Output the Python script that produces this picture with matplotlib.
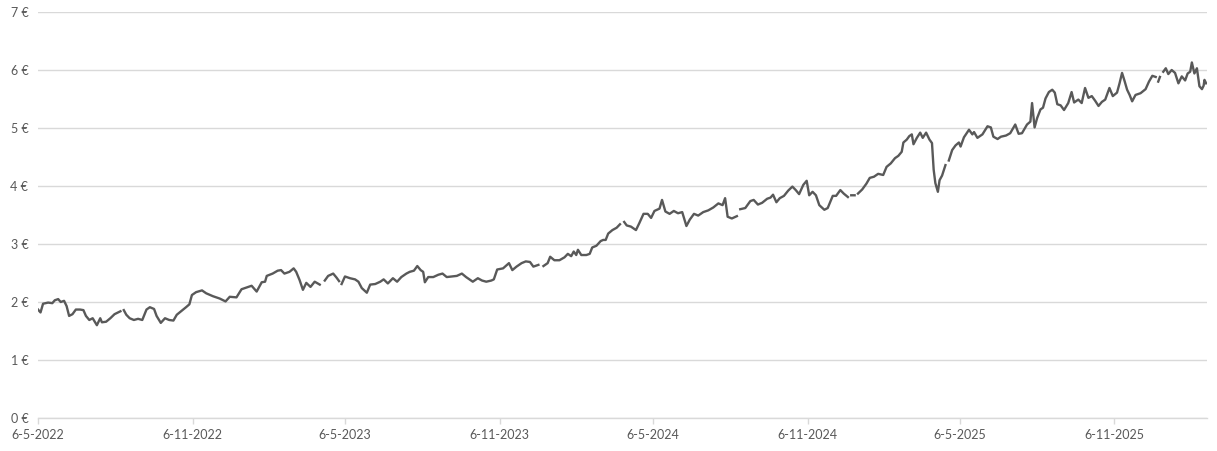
import matplotlib
matplotlib.use("Agg")
import matplotlib.pyplot as plt
import matplotlib.dates as mdates
import numpy as np
import pandas as pd

dates = [
    "2022-05-06", "2022-05-09", "2022-05-12", "2022-05-18", "2022-05-23", "2022-05-26",
    "2022-05-30", "2022-06-02", "2022-06-06", "2022-06-09", "2022-06-12", "2022-06-16",
    "2022-06-20", "2022-06-25", "2022-06-29", "2022-07-02", "2022-07-06", "2022-07-10",
    "2022-07-15", "2022-07-19", "2022-07-21", "2022-07-26", "2022-07-31", "2022-08-05",
    "2022-08-12", "2022-08-14", "2022-08-16", "2022-08-19", "2022-08-23", "2022-08-28",
    "2022-09-02", "2022-09-07", "2022-09-12", "2022-09-16", "2022-09-21", "2022-09-24",
    "2022-09-29", "2022-10-04", "2022-10-09", "2022-10-14", "2022-10-18", "2022-10-24",
    "2022-10-29", "2022-11-02", "2022-11-05", "2022-11-10", "2022-11-17", "2022-11-22",
    "2022-11-30", "2022-12-08", "2022-12-15", "2022-12-20", "2022-12-28", "2023-01-03",
    "2023-01-09", "2023-01-15", "2023-01-21", "2023-01-27", "2023-01-31", "2023-02-02",
    "2023-02-09", "2023-02-15", "2023-02-19", "2023-02-23", "2023-03-01", "2023-03-06",
    "2023-03-09", "2023-03-13", "2023-03-17", "2023-03-21", "2023-03-26", "2023-03-31",
    "2023-04-06", "2023-04-09", "2023-04-12", "2023-04-16", "2023-04-22", "2023-04-26",
    "2023-04-29", "2023-05-01", "2023-05-02", "2023-05-06", "2023-05-12", "2023-05-18",
    "2023-05-22", "2023-05-26", "2023-06-01", "2023-06-05", "2023-06-11", "2023-06-17",
    "2023-06-21", "2023-06-26", "2023-07-02", "2023-07-07", "2023-07-12", "2023-07-18",
    "2023-07-22", "2023-07-27", "2023-07-31", "2023-08-04", "2023-08-07", "2023-08-09",
    "2023-08-13", "2023-08-19", "2023-08-25", "2023-08-30", "2023-09-04", "2023-09-10",
    "2023-09-16", "2023-09-22", "2023-09-27", "2023-10-01", "2023-10-05", "2023-10-11",
    "2023-10-16", "2023-10-21", "2023-10-27", "2023-10-30", "2023-11-03", "2023-11-10",
    "2023-11-17", "2023-11-21", "2023-11-26", "2023-12-02", "2023-12-07", "2023-12-12",
    "2023-12-16", "2023-12-22", "2023-12-24", "2023-12-28", "2024-01-02", "2024-01-05",
    "2024-01-10", "2024-01-16", "2024-01-22", "2024-01-26", "2024-01-30", "2024-02-02",
    "2024-02-05", "2024-02-07", "2024-02-11", "2024-02-17", "2024-02-21", "2024-02-24",
    "2024-02-29", "2024-03-05", "2024-03-08", "2024-03-11", "2024-03-14", "2024-03-19",
    "2024-03-24", "2024-03-28", "2024-03-30", "2024-04-02", "2024-04-05", "2024-04-10",
    "2024-04-16", "2024-04-20", "2024-04-25", "2024-04-30", "2024-05-04", "2024-05-08",
    "2024-05-14", "2024-05-17", "2024-05-21", "2024-05-26", "2024-05-31", "2024-06-05",
    "2024-06-10", "2024-06-15", "2024-06-19", "2024-06-24", "2024-06-29", "2024-07-05",
    "2024-07-11", "2024-07-17", "2024-07-23", "2024-07-28", "2024-07-31", "2024-08-03",
    "2024-08-08", "2024-08-14", "2024-08-16", "2024-08-18", "2024-08-24", "2024-08-30",
    "2024-09-03", "2024-09-08", "2024-09-13", "2024-09-19", "2024-09-23", "2024-09-26",
    "2024-09-30", "2024-10-04", "2024-10-09", "2024-10-14", "2024-10-19", "2024-10-23",
    "2024-10-27", "2024-11-01", "2024-11-05", "2024-11-08", "2024-11-12", "2024-11-16",
    "2024-11-20", "2024-11-26", "2024-11-30", "2024-12-06", "2024-12-10", "2024-12-15",
    "2024-12-19", "2024-12-24", "2024-12-26", "2024-12-28", "2025-01-01", "2025-01-03",
    "2025-01-05", "2025-01-10", "2025-01-15", "2025-01-19", "2025-01-24", "2025-01-29",
    "2025-02-04", "2025-02-08", "2025-02-13", "2025-02-18", "2025-02-22", "2025-02-26",
    "2025-02-28", "2025-03-04", "2025-03-07", "2025-03-10", "2025-03-12", "2025-03-16",
    "2025-03-20", "2025-03-23", "2025-03-27", "2025-03-31", "2025-04-03", "2025-04-05",
    "2025-04-07", "2025-04-10", "2025-04-12", "2025-04-15", "2025-04-19", "2025-04-21",
    "2025-04-23", "2025-04-27", "2025-05-01", "2025-05-05", "2025-05-07", "2025-05-11",
    "2025-05-17", "2025-05-21", "2025-05-23", "2025-05-27", "2025-06-02", "2025-06-08",
    "2025-06-12", "2025-06-15", "2025-06-20", "2025-06-24", "2025-06-30", "2025-07-05",
    "2025-07-11", "2025-07-15", "2025-07-19", "2025-07-25", "2025-07-29", "2025-07-31",
    "2025-08-03", "2025-08-06", "2025-08-10", "2025-08-13", "2025-08-16", "2025-08-20",
    "2025-08-24", "2025-08-27", "2025-08-30", "2025-09-03", "2025-09-07", "2025-09-12",
    "2025-09-16", "2025-09-19", "2025-09-24", "2025-09-28", "2025-10-02", "2025-10-06",
    "2025-10-10", "2025-10-14", "2025-10-18", "2025-10-22", "2025-10-26", "2025-10-31",
    "2025-11-04", "2025-11-09", "2025-11-12", "2025-11-15", "2025-11-18", "2025-11-21",
    "2025-11-24", "2025-11-27", "2025-12-01", "2025-12-07", "2025-12-13", "2025-12-17",
    "2025-12-21", "2025-12-25", "2025-12-27", "2025-12-28", "2025-12-30", "2025-12-31",
    "2026-01-03", "2026-01-06", "2026-01-09", "2026-01-13", "2026-01-17", "2026-01-21",
    "2026-01-25", "2026-01-29", "2026-02-01", "2026-02-04", "2026-02-06", "2026-02-09",
    "2026-02-12", "2026-02-15", "2026-02-18", "2026-02-20", "2026-02-21", "2026-02-23",
]
prices = [
    1.87, 1.82, 1.97, 1.99, 1.98, 2.03,
    2.05, 2.00, 2.02, 1.93, 1.76, 1.79,
    1.87, 1.87, 1.86, 1.76, 1.69, 1.72,
    1.60, 1.72, 1.65, 1.66, 1.72, 1.79,
    1.84, None, 1.86, 1.78, 1.72, 1.69,
    1.71, 1.69, 1.87, 1.91, 1.88, 1.76,
    1.64, 1.72, 1.69, 1.68, 1.78, 1.85,
    1.91, 1.96, 2.12, 2.17, 2.20, 2.15,
    2.10, 2.06, 2.01, 2.09, 2.08, 2.22,
    2.25, 2.28, 2.18, 2.34, 2.35, 2.45,
    2.49, 2.54, 2.55, 2.49, 2.52, 2.58,
    2.52, 2.38, 2.21, 2.33, 2.26, 2.35,
    2.30, None, 2.37, 2.45, 2.49, 2.42,
    2.36, None, 2.31, 2.44, 2.41, 2.39,
    2.35, 2.24, 2.16, 2.30, 2.31, 2.35,
    2.39, 2.32, 2.41, 2.35, 2.43, 2.49,
    2.52, 2.54, 2.62, 2.55, 2.52, 2.34,
    2.43, 2.43, 2.47, 2.49, 2.43, 2.44,
    2.45, 2.49, 2.43, 2.39, 2.35, 2.41,
    2.37, 2.35, 2.37, 2.39, 2.56, 2.58,
    2.67, 2.55, 2.61, 2.67, 2.70, 2.69,
    2.61, 2.64, None, 2.62, 2.67, 2.78,
    2.72, 2.72, 2.77, 2.83, 2.79, 2.87,
    2.81, 2.90, 2.81, 2.81, 2.83, 2.94,
    2.97, 3.05, 3.07, 3.07, 3.18, 3.24,
    3.28, 3.34, None, 3.38, 3.32, 3.30,
    3.24, 3.36, 3.52, 3.52, 3.45, 3.57,
    3.61, 3.76, 3.56, 3.52, 3.57, 3.53,
    3.55, 3.31, 3.42, 3.52, 3.49, 3.55,
    3.58, 3.63, 3.70, 3.67, 3.79, 3.47,
    3.44, 3.48, None, 3.60, 3.62, 3.74,
    3.76, 3.68, 3.71, 3.78, 3.80, 3.85,
    3.72, 3.79, 3.83, 3.92, 3.99, 3.93,
    3.86, 4.02, 4.09, 3.84, 3.90, 3.84,
    3.67, 3.59, 3.62, 3.83, 3.83, 3.93,
    3.87, 3.81, None, 3.84, 3.84, None,
    3.87, 3.94, 4.04, 4.14, 4.16, 4.21,
    4.19, 4.33, 4.39, 4.48, 4.52, 4.59,
    4.75, 4.80, 4.86, 4.89, 4.72, 4.83,
    4.92, 4.83, 4.92, 4.80, 4.74, 4.28,
    4.05, 3.90, 4.10, 4.18, 4.36, None,
    4.44, 4.62, 4.70, 4.75, 4.68, 4.84,
    4.97, 4.89, 4.93, 4.83, 4.89, 5.03,
    5.01, 4.85, 4.81, 4.85, 4.87, 4.91,
    5.06, 4.90, 4.91, 5.06, 5.11, 5.43,
    5.01, 5.17, 5.32, 5.35, 5.51, 5.62,
    5.66, 5.61, 5.41, 5.39, 5.31, 5.43,
    5.62, 5.44, 5.49, 5.43, 5.69, 5.52,
    5.55, 5.47, 5.38, 5.45, 5.49, 5.69,
    5.55, 5.61, 5.77, 5.95, 5.81, 5.66,
    5.57, 5.46, 5.57, 5.60, 5.67, 5.80,
    5.90, 5.88, None, 5.80, 5.88, None,
    5.97, 6.03, 5.93, 6.00, 5.95, 5.77,
    5.89, 5.82, 5.94, 5.97, 6.13, 5.94,
    6.03, 5.72, 5.67, 5.73, 5.83, 5.77,
]

tick_dates = ["2022-05-06", "2022-11-06", "2023-05-06", "2023-11-06",
              "2024-05-06", "2024-11-06", "2025-05-06", "2025-11-06"]
tick_labels = ["6-5-2022", "6-11-2022", "6-5-2023", "6-11-2023",
               "6-5-2024", "6-11-2024", "6-5-2025", "6-11-2025"]
y_ticks = [0, 1, 2, 3, 4, 5, 6, 7]

LINE = "#595959"
GRID = "#d9d9d9"
TEXT = "#595959"

plt.rcParams["font.family"] = ["Lato", "DejaVu Sans"]

x = pd.to_datetime(dates)
y = np.array([np.nan if v is None else v for v in prices], dtype=float)

fig = plt.figure(figsize=(12.17, 4.51), dpi=100)
ax = fig.add_axes([38 / 1217, 1 - 418 / 451, (1207 - 38) / 1217, (418 - 12) / 451])

ax.plot(x, y, color=LINE, linewidth=1.7, solid_joinstyle="round")

ax.set_ylim(0, 7)
ax.set_xlim(pd.Timestamp("2022-05-06"), pd.Timestamp("2026-02-24"))

ax.set_yticks(y_ticks)
ax.set_yticklabels([f"{v} €" for v in y_ticks])
ax.set_xticks(mdates.date2num(pd.to_datetime(tick_dates)))
ax.set_xticklabels(tick_labels)

ax.grid(axis="y", color=GRID, linewidth=1.0)
ax.set_axisbelow(True)
for side in ("left", "right", "top"):
    ax.spines[side].set_visible(False)
ax.spines["bottom"].set_color(GRID)
ax.spines["bottom"].set_linewidth(1.0)

ax.tick_params(axis="y", length=0, pad=7, labelsize=9, labelcolor=TEXT)
ax.tick_params(axis="x", length=4, width=1.0, color=GRID, pad=4,
               labelsize=9, labelcolor=TEXT)

fig.savefig("out.png", dpi=100)
